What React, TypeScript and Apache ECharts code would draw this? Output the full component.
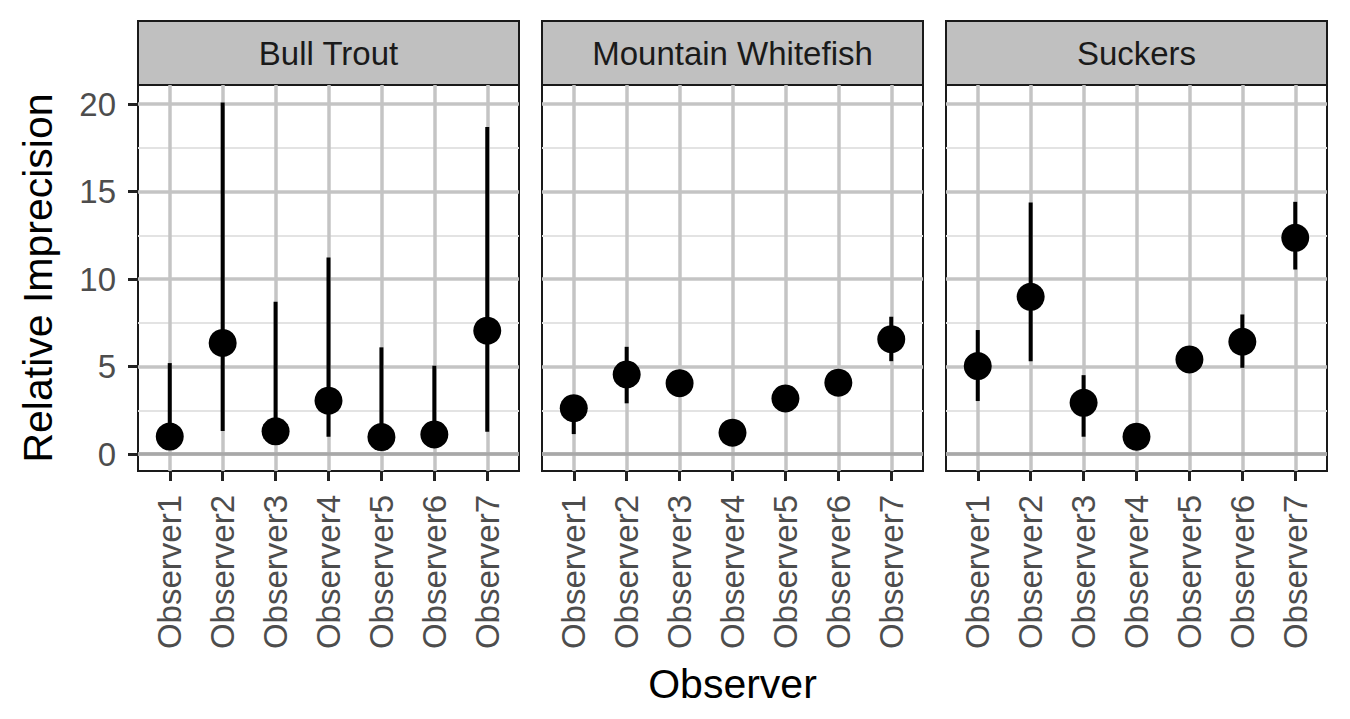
import React, { useEffect, useRef } from 'react';
import * as echarts from 'echarts';

const observers = ['Observer1', 'Observer2', 'Observer3', 'Observer4', 'Observer5', 'Observer6', 'Observer7'];
const species = ['Bull Trout', 'Mountain Whitefish', 'Suckers'];

const bullTroutEst = [1.0, 6.35, 1.3, 3.05, 0.97, 1.12, 7.05];
const bullTroutLow = [0.6, 1.31, 1.0, 0.99, 0.6, 0.8, 1.28];
const bullTroutHigh = [5.2, 20.1, 8.7, 11.24, 6.1, 5.05, 18.7];

const whitefishEst = [2.62, 4.55, 4.05, 1.22, 3.18, 4.08, 6.57];
const whitefishLow = [1.14, 2.9, 3.8, 1.0, 2.9, 3.8, 5.31];
const whitefishHigh = [3.2, 6.13, 4.3, 1.45, 3.45, 4.35, 7.85];

const suckersEst = [5.03, 8.99, 2.93, 0.99, 5.41, 6.42, 12.36];
const suckersLow = [3.03, 5.31, 0.99, 0.8, 5.2, 4.93, 10.55];
const suckersHigh = [7.09, 14.38, 4.51, 1.2, 5.65, 7.98, 14.42];

const yTicks = [0, 5, 10, 15, 20];
const xTicks = [0, 1, 2, 3, 4, 5, 6];

const panelEst = [bullTroutEst, whitefishEst, suckersEst];
const panelLow = [bullTroutLow, whitefishLow, suckersLow];
const panelHigh = [bullTroutHigh, whitefishHigh, suckersHigh];

const FONT = 'Liberation Sans, Arial, Helvetica, sans-serif';

export default function App() {
  const ref = useRef<HTMLDivElement>(null);

  useEffect(() => {
    document.body.style.margin = '0';
    if (!ref.current) return;
    const chart = echarts.init(ref.current, undefined, { renderer: 'svg' });

    const panelLeft = 138;
    const panelStep = 404;
    const panelWidth = 381;
    const panelTop = 85;
    const panelHeight = 386;

    const grids: any[] = [];
    const xAxes: any[] = [];
    const yAxes: any[] = [];
    const series: any[] = [];
    const graphics: any[] = [];

    species.forEach((name, i) => {
      const left = panelLeft + i * panelStep;
      grids.push({
        left,
        top: panelTop,
        width: panelWidth,
        height: panelHeight,
        show: true,
        borderColor: '#1a1a1a',
        borderWidth: 2,
        backgroundColor: 'transparent',
        containLabel: false,
      });
      xAxes.push({
        type: 'value',
        gridIndex: i,
        position: 'bottom',
        min: -0.6,
        max: 6.6,
        axisLine: { show: false, onZero: false },
        axisTick: {
          show: true,
          customValues: xTicks,
          length: 10,
          lineStyle: { color: '#222222', width: 3 },
        },
        axisLabel: {
          customValues: xTicks,
          rotate: 90,
          formatter: (v: number) => observers[Math.round(v)],
          color: '#4D4D4D',
          fontSize: 33,
          fontFamily: FONT,
          margin: 24,
        },
        splitLine: { show: true, lineStyle: { color: '#C4C4C4', width: 3.5 } },
      });
      yAxes.push({
        type: 'value',
        gridIndex: i,
        position: 'left',
        min: -0.97,
        max: 21.1,
        axisLine: { show: false, onZero: false },
        axisTick: {
          show: i === 0,
          customValues: yTicks,
          length: 10,
          lineStyle: { color: '#222222', width: 3 },
        },
        axisLabel: {
          show: i === 0,
          customValues: yTicks,
          color: '#4D4D4D',
          fontSize: 33,
          fontFamily: FONT,
          margin: 22,
        },
        splitLine: { show: true, lineStyle: { color: '#C4C4C4', width: 3.5 } },
        minorTick: { show: false, splitNumber: 2 },
        minorSplitLine: { show: true, lineStyle: { color: '#E3E3E3', width: 2 } },
      });

      const est = panelEst[i];
      const low = panelLow[i];
      const high = panelHigh[i];

      series.push({
        type: 'custom',
        xAxisIndex: i,
        yAxisIndex: i,
        data: observers.map((_, k) => [k, low[k], high[k]]),
        encode: { x: 0, y: [1, 2] },
        renderItem: (params: any, api: any) => {
          const x = api.value(0);
          const p1 = api.coord([x, api.value(1)]);
          const p2 = api.coord([x, api.value(2)]);
          return {
            type: 'line',
            shape: { x1: p1[0], y1: p1[1], x2: p2[0], y2: p2[1] },
            style: { stroke: '#000000', lineWidth: 4 },
          };
        },
        markLine: {
          silent: true,
          symbol: 'none',
          label: { show: false },
          lineStyle: { color: '#A8A8A8', width: 3.5, type: 'solid' },
          data: [{ yAxis: 0 }],
        },
        z: 3,
      });
      series.push({
        type: 'scatter',
        xAxisIndex: i,
        yAxisIndex: i,
        data: est.map((v, k) => [k, v]),
        symbol: 'circle',
        symbolSize: 28,
        itemStyle: { color: '#000000', opacity: 1 },
        z: 4,
      });

      graphics.push({
        type: 'rect',
        shape: { x: left, y: 21, width: panelWidth, height: panelTop - 21 },
        style: { fill: '#C0C0C0', stroke: '#1a1a1a', lineWidth: 2 },
      });
      graphics.push({
        type: 'text',
        x: left + panelWidth / 2,
        y: 53,
        style: {
          text: name,
          fill: '#1A1A1A',
          font: `33px ${FONT}`,
          textAlign: 'center',
          textVerticalAlign: 'middle',
        },
      });
    });

    graphics.push({
      type: 'text',
      x: 38,
      y: panelTop + panelHeight / 2,
      rotation: Math.PI / 2,
      style: {
        text: 'Relative Imprecision',
        fill: '#000000',
        font: `41px ${FONT}`,
        textAlign: 'center',
        textVerticalAlign: 'middle',
      },
    });
    graphics.push({
      type: 'text',
      x: (panelLeft + panelLeft + 2 * panelStep + panelWidth) / 2,
      y: 684,
      style: {
        text: 'Observer',
        fill: '#000000',
        font: `41px ${FONT}`,
        textAlign: 'center',
        textVerticalAlign: 'middle',
      },
    });

    chart.setOption({
      animation: false,
      backgroundColor: '#ffffff',
      grid: grids,
      xAxis: xAxes,
      yAxis: yAxes,
      series,
      graphic: { elements: graphics },
    });

    return () => {
      chart.dispose();
    };
  }, []);

  return <div ref={ref} style={{ width: 1350, height: 719 }} />;
}
